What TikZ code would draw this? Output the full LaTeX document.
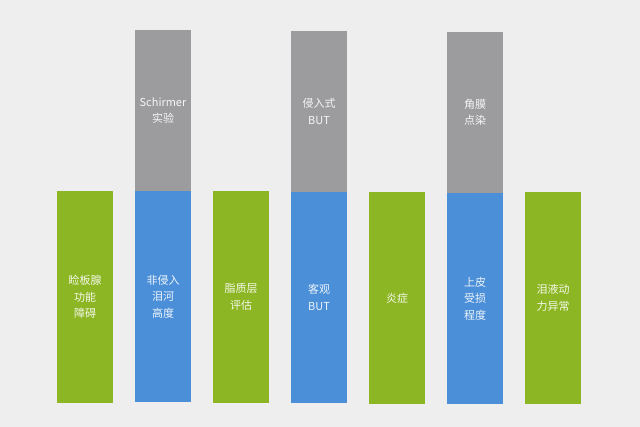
\documentclass[tikz,border=0pt]{standalone}
\usepackage{fontspec}
\newfontfamily\cjk{Noto Sans CJK SC}
\usepackage{tikz}
\usetikzlibrary{positioning}
\definecolor{barGreen}{HTML}{8DB624}
\definecolor{barBlue}{HTML}{4B8FD8}
\definecolor{barGray}{HTML}{9C9C9E}
\definecolor{pageBg}{HTML}{EFEEEF}

\begin{document}
\begin{tikzpicture}[x=1pt, y=-1pt, font=\cjk\fontsize{11}{16.5}\selectfont,
  bar/.style={inner sep=0pt, outer sep=0pt, minimum width=56pt, align=center, text=white, text opacity=0.9},
  low/.style={bar, minimum height=212pt},
  high/.style={bar, fill=barGray, minimum height=161pt}]
\fill[pageBg] (0,0) rectangle (640,427);
\useasboundingbox (0,0) rectangle (640,427);
\node[low, fill=barGreen, anchor=north west] (g1) at (57,191) {睑板腺\\功能\\障碍};
\node[high, anchor=north west] (t1) at (135,30) {Schirmer\\实验};
\node[low, fill=barBlue, minimum height=211pt, below=0pt of t1] (b1) {非侵入\\泪河\\高度};
\node[low, fill=barGreen, anchor=north west] (g2) at (213,191) {脂质层\\评估};
\node[high, anchor=north west] (t2) at (291,31) {侵入式\\BUT};
\node[low, fill=barBlue, minimum height=211pt, below=0pt of t2] (b2) {客观\\BUT};
\node[low, fill=barGreen, anchor=north west] (g3) at (369,192) {炎症};
\node[high, anchor=north west] (t3) at (447,32) {角膜\\点染};
\node[low, fill=barBlue, minimum height=211pt, below=0pt of t3] (b3) {上皮\\受损\\程度};
\node[low, fill=barGreen, anchor=north west] (g4) at (525,192) {泪液动\\力异常};
\end{tikzpicture}
\end{document}
